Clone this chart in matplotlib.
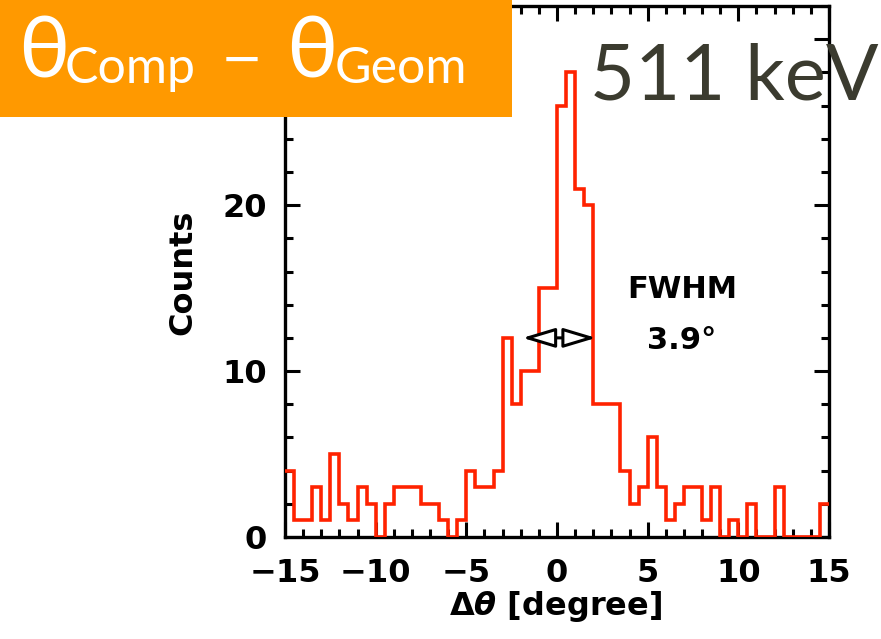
import numpy as np
import matplotlib
matplotlib.use("Agg")
import matplotlib.pyplot as plt
from matplotlib.patches import Rectangle, FancyArrowPatch
from matplotlib.ticker import MultipleLocator

# Histogram of the angular difference, 0.5 degree bins from -15 to 15
bin_edges = np.arange(-15.0, 15.0 + 0.25, 0.5)
counts = [4, 1, 1, 3, 1, 5, 2, 1, 3, 2,
          0, 2, 3, 3, 3, 2, 2, 1, 0, 1,
          4, 3, 3, 4, 12, 8, 10, 10, 15, 15,
          26, 28, 21, 20, 8, 8, 8, 4, 2, 3,
          6, 3, 1, 2, 3, 3, 1, 3, 0, 1,
          0, 2, 0, 0, 3, 0, 0, 0, 0, 2]
x_ticks = [-15, -10, -5, 0, 5, 10, 15]
y_ticks = [0, 10, 20, 30]
fwhm_range = (-1.9, 2.15)
fwhm_level = 12
fwhm_title = "FWHM"
fwhm_value = "3.9°"

W, H = 881, 639
plt.rcParams["font.family"] = ["DejaVu Sans"]
plt.rcParams["font.weight"] = "bold"
plt.rcParams["mathtext.fontset"] = "custom"
plt.rcParams["mathtext.rm"] = "DejaVu Sans:bold"
plt.rcParams["mathtext.it"] = "DejaVu Sans:italic:bold"
plt.rcParams["mathtext.bf"] = "DejaVu Sans:bold"

fig = plt.figure(figsize=(W / 100, H / 100), dpi=100)
fig.patch.set_facecolor("white")

def fx(px):
    return px / W

def fy(py):
    return 1 - py / H

ax = fig.add_axes([fx(285), fy(537), fx(829) - fx(285), fy(6) - fy(537)])
ax.stairs(counts, bin_edges, baseline=None, color="#ff2200", lw=2.6,
          zorder=3)
ax.set_xlim(-15, 15)
ax.set_ylim(0, 32)

ax.set_xticks(x_ticks)
ax.set_xticklabels([f"{t}".replace("-", "\u2212") for t in x_ticks])
ax.set_yticks(y_ticks)
ax.xaxis.set_minor_locator(MultipleLocator(1))
ax.yaxis.set_minor_locator(MultipleLocator(2))
ax.tick_params(which="both", direction="in", top=True, right=True,
               width=2.2, labelsize=23)
ax.tick_params(which="major", length=11)
ax.tick_params(which="minor", length=6)
ax.tick_params(axis="x", which="major", pad=15)
ax.tick_params(axis="y", which="major", pad=13)
for s in ax.spines.values():
    s.set_linewidth(2.4)

arrow = FancyArrowPatch((fwhm_range[0], fwhm_level), (fwhm_range[1], fwhm_level),
                        arrowstyle="<|-|>,head_length=20,head_width=6",
                        mutation_scale=1, shrinkA=0, shrinkB=0,
                        facecolor="white", edgecolor="black", lw=2.2,
                        zorder=4)
ax.add_patch(arrow)
ax.text(6.9, (537 - 289) / 16.6, fwhm_title, ha="center", va="center",
        fontsize=22, fontweight="bold", zorder=5)
ax.text(6.9, (537 - 340) / 16.6, fwhm_value, ha="center", va="center",
        fontsize=22, fontweight="bold", zorder=5)

fig.text(fx(183), fy(272), "Counts", rotation=90, ha="center", va="center",
         fontsize=23, fontweight="bold")
fig.text(fx(556), fy(606), r"$\Delta\theta$ [degree]", ha="center",
         va="center", fontsize=23, fontweight="bold")

# Title banner in the upper left corner
banner = Rectangle((0, fy(117)), fx(512), 1 - fy(117), transform=fig.transFigure,
                   facecolor="#ff9900", edgecolor="none", zorder=10)
fig.add_artist(banner)
white = dict(color="white", fontweight="normal", zorder=11,
             ha="left", va="baseline")
fig.text(fx(18), fy(78), "θ", fontsize=62, family="Lato", **white)
fig.text(fx(65), fy(83), "Comp", fontsize=36, family="Lato", **white)
fig.text(fx(221), fy(75), "\u2212", fontsize=36, family="DejaVu Sans", **white)
fig.text(fx(286), fy(78), "θ", fontsize=62, family="Lato", **white)
fig.text(fx(335), fy(83), "Geom", fontsize=36, family="Lato", **white)

fig.text(fx(590), fy(100), "511 keV", fontsize=56, family="Lato",
         fontweight="normal", color="#3b3b2f", ha="left", va="baseline",
         zorder=11)

fig.savefig("out.png", dpi=100)
